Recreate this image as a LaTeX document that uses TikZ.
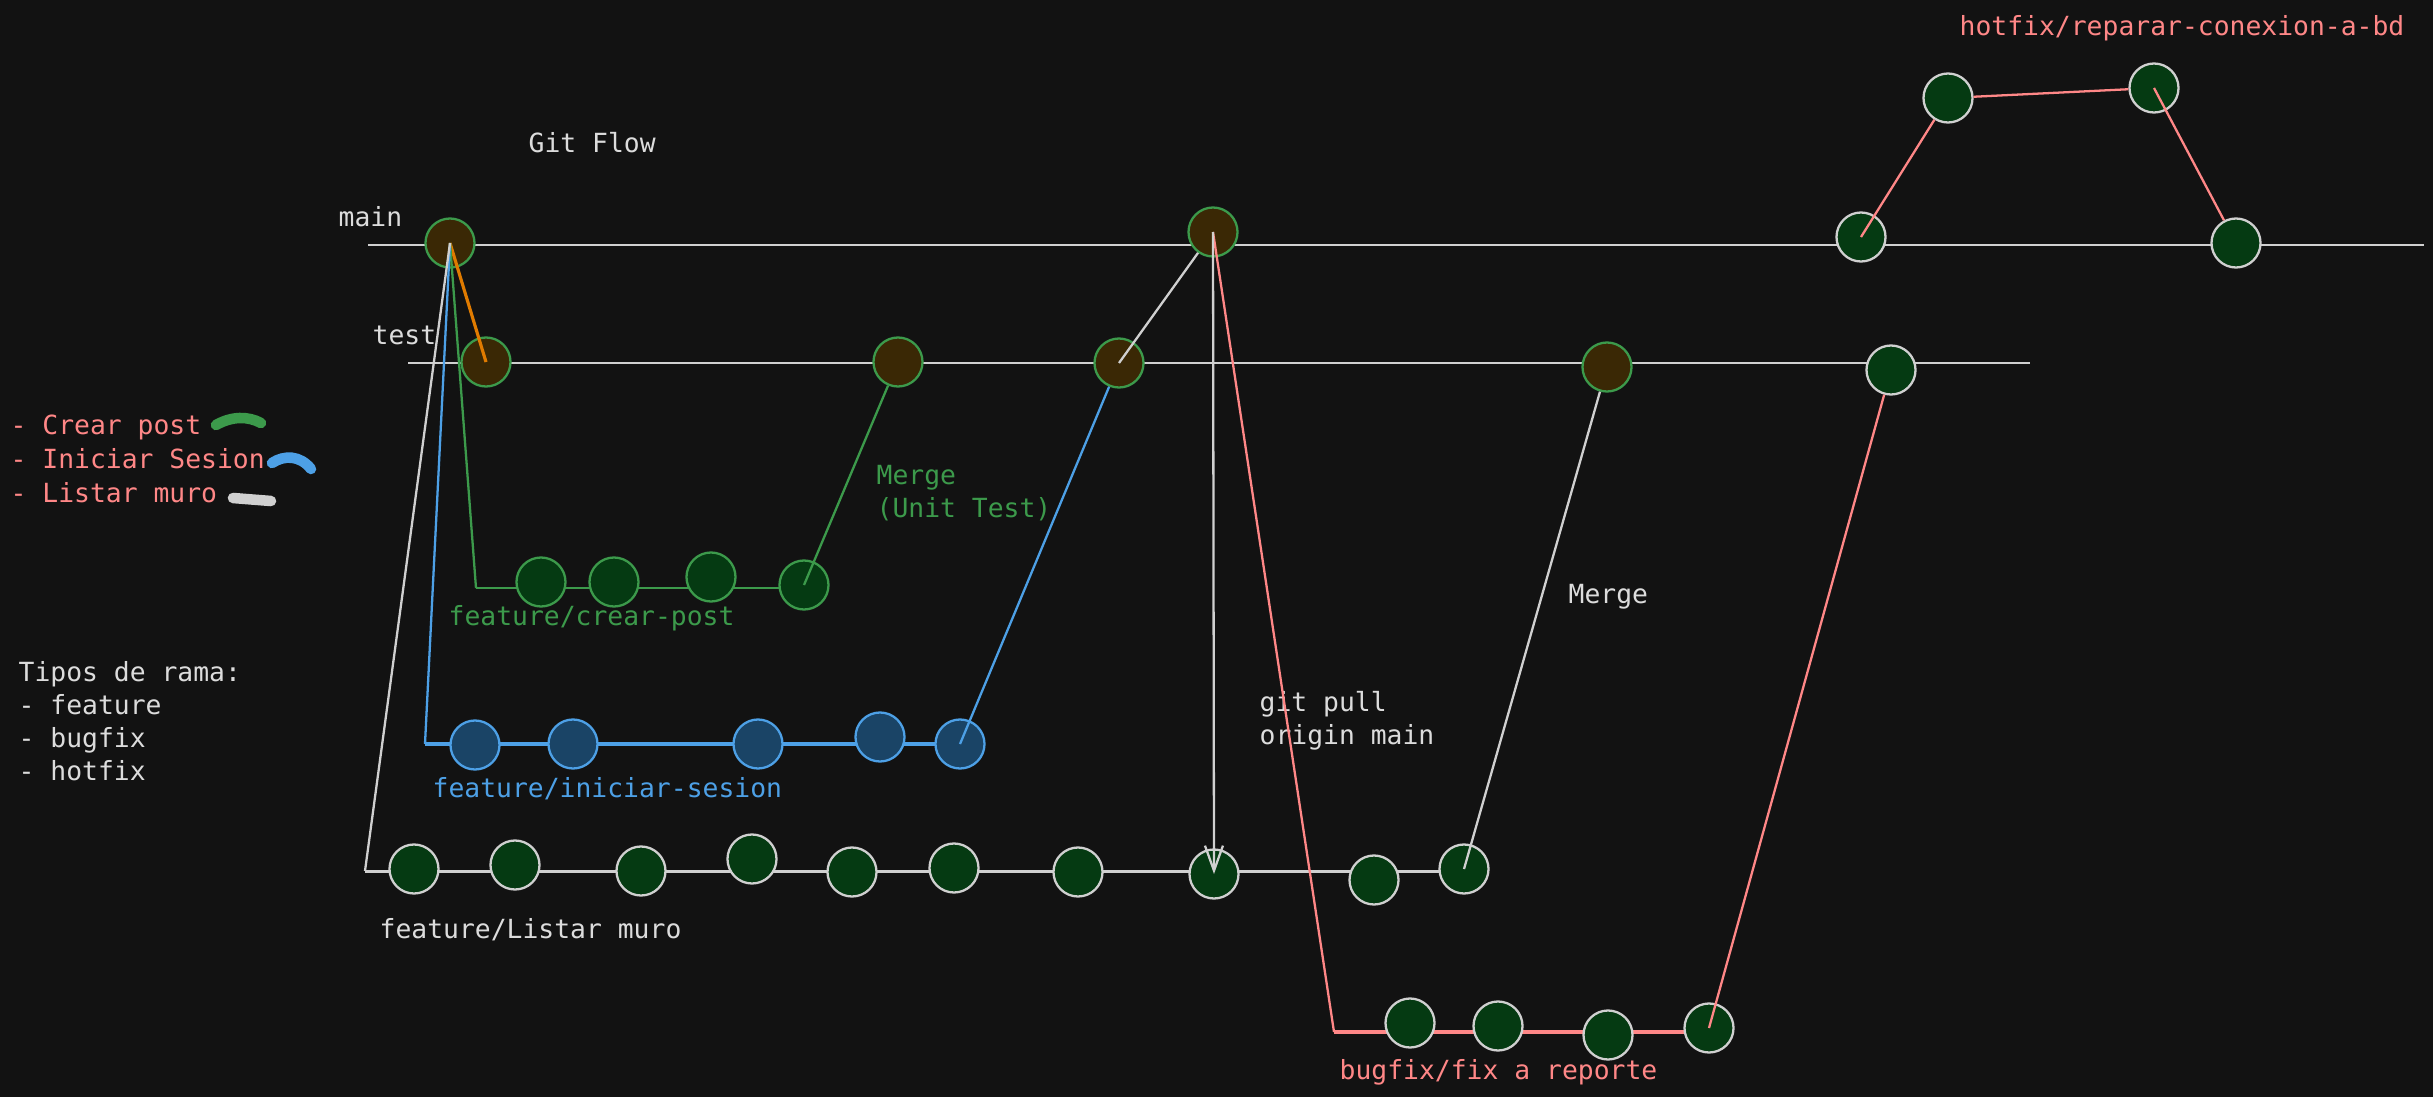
\documentclass[tikz,border=0pt]{standalone}
\usepackage{fontspec}
\setmainfont{DejaVu Sans Mono}
\usepackage{tikz}
\usetikzlibrary{arrows.meta, positioning}
\usepackage{xcolor}

\definecolor{fondo}{HTML}{121212}
\definecolor{blanco}{HTML}{DCDCDC}
\definecolor{linea}{HTML}{D0D0D0}
\definecolor{verde}{HTML}{3C9A4B}
\definecolor{azul}{HTML}{4DA0E6}
\definecolor{rojo}{HTML}{FF8787}
\definecolor{naranja}{HTML}{E07B00}
\definecolor{verdeosc}{HTML}{053A12}
\definecolor{marron}{HTML}{3A2805}
\definecolor{azulosc}{HTML}{1A4466}

\pgfdeclarelayer{fondo}
\pgfdeclarelayer{bg}
\pgfsetlayers{fondo,bg,main}

\begin{document}
\begin{tikzpicture}[x=0.01cm, y=-0.01cm, font=\fontsize{7.5}{9.4}\selectfont,
    commit/.style={circle, minimum size=0.49cm, inner sep=0, line width=0.65pt},
    cverde/.style={commit, draw=linea, fill=verdeosc},
    cmarron/.style={commit, draw=verde, fill=marron},
    cpost/.style={commit, draw=verde, fill=verdeosc},
    cazul/.style={commit, draw=azul, fill=azulosc},
    rama/.style={line width=0.85pt},
    union/.style={line width=0.65pt},
    txt/.style={anchor=west, inner sep=0, text=blanco, align=left}]

    % fondo
    \begin{pgfonlayer}{fondo}
        \fill[fondo] (0,0) rectangle (2433,1097);
    \end{pgfonlayer}

    % textos
    \node[txt] (titulo) at (528,143) {Git Flow};
    \node[txt] (lmain) at (338,217) {main};
    \node[txt] (ltest) at (372,335) {test};
    \node[txt, text=rojo] (lhotfix) at (1959,28) {hotfix/reparar-conexion-a-bd};
    \node[txt, text=rojo] (leg1) at (10,427) {- Crear post};
    \node[txt, text=rojo] (leg2) at (10,459) {- Iniciar Sesion};
    \node[txt, text=rojo] (leg3) at (10,493) {- Listar muro};
    \node[txt] (tipos) at (18,721) {Tipos de rama:\\- feature\\- bugfix\\- hotfix};
    \node[txt, text=verde] (lpost) at (448,618) {feature/crear-post};
    \node[txt, text=azul] (lsesion) at (432,789) {feature/iniciar-sesion};
    \node[txt] (llistar) at (379,930) {feature/Listar muro};
    \node[txt, text=rojo] (lbug) at (1339,1072) {bugfix/fix a reporte};
    \node[txt, text=verde] (lmerge1) at (876,493) {Merge\\(Unit Test)};
    \node[txt] (lpull) at (1259,721) {git pull\\origin main};
    \node[txt] (lmerge2) at (1568,597) {Merge};

    % trazos de la leyenda
    \draw[verde, line width=3pt, line cap=round] (216,425) .. controls (232,416) and (248,416) .. (261,423);
    \draw[azul, line width=3pt, line cap=round] (272,463) .. controls (284,455) and (300,455) .. (311,469);
    \draw[linea, line width=3pt, line cap=round] (233,498) -- (271,501);

    % extremos de las ramas
    \coordinate (mainL) at (368,245);
    \coordinate (mainR) at (2424,245);
    \coordinate (testL) at (408,363);
    \coordinate (testR) at (2030,363);
    \coordinate (postC) at (476,588);
    \coordinate (sesC) at (425,744);
    \coordinate (listC) at (365,871);
    \coordinate (bugC) at (1334,1032);

    % commits
    \foreach \nombre/\x/\y in {m1/450/243, m2/1213/232, t1/486/362, t2/898/362, t3/1119/363, t4/1607/367}
        \node[cmarron] (\nombre) at (\x,\y) {};
    \foreach \nombre/\x/\y in {m3/1861/237, m4/2236/243, t5/1891/370, h1/1948/98, h2/2154/88}
        \node[cverde] (\nombre) at (\x,\y) {};
    \foreach \nombre/\x/\y in {p1/541/582, p2/614/582, p3/711/577, p4/804/585}
        \node[cpost] (\nombre) at (\x,\y) {};
    \foreach \nombre/\x/\y in {s1/475/745, s2/573/744, s3/758/744, s4/880/737, s5/960/744}
        \node[cazul] (\nombre) at (\x,\y) {};
    \foreach \nombre/\x/\y in {l1/414/869, l2/515/865, l3/641/871, l4/752/859, l5/852/872,
        l6/954/868, l7/1078/872, l8/1214/874, l9/1374/880, l10/1464/869}
        \node[cverde] (\nombre) at (\x,\y) {};
    \foreach \nombre/\x/\y in {b1/1410/1023, b2/1498/1026, b3/1608/1035, b4/1709/1028}
        \node[cverde] (\nombre) at (\x,\y) {};

    % lineas horizontales (detras)
    \begin{pgfonlayer}{bg}
        \draw[rama, linea] (mainL) -- (mainR);
        \draw[rama, linea] (testL) -- (testR);
        \draw[rama, verde] (postC) -- (postC -| p4);
        \draw[rama, azul, line width=1.1pt] (sesC) -- (sesC -| s5);
        \draw[rama, linea] (listC) -- (listC -| l10);
        \draw[rama, rojo, line width=1.1pt] (bugC) -- (bugC -| b4);
    \end{pgfonlayer}

    % salidas de las ramas
    \draw[union, naranja, line width=0.9pt] (m1.center) -- (t1.center);
    \draw[union, verde] (m1.center) -- (postC);
    \draw[union, azul] (m1.center) -- (sesC);
    \draw[union, linea] (m1.center) -- (listC);
    \draw[union, rojo] (m2.center) -- (bugC);
    \draw[union, linea, -{Straight Barb[length=0.25cm, width=0.18cm]}] (m2.center) -- (l8.center);

    % merges
    \draw[union, verde] (p4.center) -- (t2);
    \draw[union, azul] (s5.center) -- (t3);
    \draw[union, linea] (t3.center) -- (m2);
    \draw[union, linea] (l10.center) -- (t4);
    \draw[union, rojo] (b4.center) -- (t5);

    % hotfix
    \draw[union, rojo] (m3.center) -- (h1);
    \draw[union, rojo] (h1) -- (h2);
    \draw[union, rojo] (h2.center) -- (m4);
\end{tikzpicture}
\end{document}
